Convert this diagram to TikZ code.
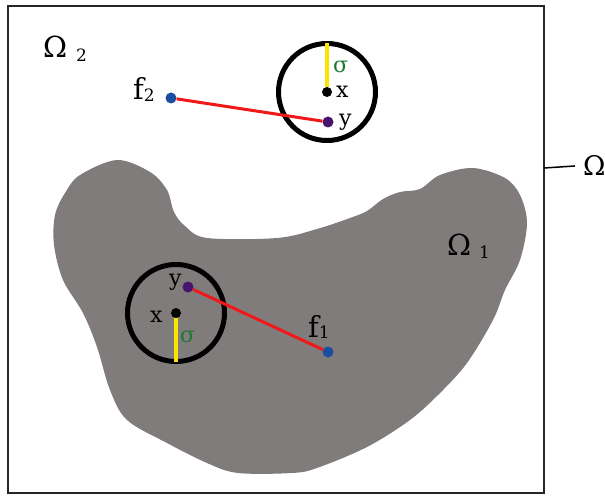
\documentclass[tikz,border=0pt]{standalone}
\usepackage{fontspec}
\setmainfont{DejaVu Serif}
\definecolor{blobgrey}{RGB}{128,124,123}
\definecolor{dotblue}{RGB}{28,78,160}
\definecolor{dotpurple}{RGB}{72,20,110}
\definecolor{linered}{RGB}{240,24,24}
\definecolor{lineyellow}{RGB}{250,228,0}
\definecolor{sigmagreen}{RGB}{30,120,50}
\newcommand{\subdigit}[2]{\raisebox{-#2}{\fontsize{17}{20}\selectfont #1}}
\begin{document}
\begin{tikzpicture}[x=1pt,y=-1pt,
  dot/.style={circle,fill=#1,inner sep=0pt,minimum size=11pt},
  ring/.style={circle,draw=black,line width=5pt,inner sep=0pt,outer sep=0pt,minimum size=97pt},
  radiusline/.style={draw=lineyellow,line width=3.5pt},
  distline/.style={draw=linered,line width=3pt},
  biglabel/.style={anchor=base west,inner sep=0pt,font=\fontsize{29}{34}\selectfont},
  smalllabel/.style={anchor=base west,inner sep=0pt,font=\fontsize{22}{26}\selectfont},
]
\useasboundingbox (0,0) rectangle (605,497);
% frame
\draw[line width=2pt,draw=black!85] (8,6) rectangle (544,493);
% region Omega_1
\fill[blobgrey] plot[smooth cycle,tension=0.55] coordinates {
 (117,160) (150,172) (167,190) (174,212) (185,226) (207,238) (277,238)
 (317,229) (350,218) (367,211) (383,199) (400,192) (420,189) (440,175)
 (473,168) (505,178) (520,195) (527,223) (520,260) (505,290) (493,320)
 (467,363) (440,393) (410,420) (367,447) (317,468) (292,473) (238,473)
 (207,463) (167,443) (127,420) (110,390) (97,347) (83,313) (63,280)
 (54,245) (55,215) (65,193) (80,175)};
% Omega tick
\coordinate (tk) at (544,168);
\node[font=\fontsize{27}{32}\selectfont,inner sep=0pt,anchor=base west] (om) at (583,176) {Ω};
\draw[line width=1.5pt] (tk) -- ([xshift=-8pt]om.west);
% labels of regions
\node[biglabel] (om2) at (43,58) {Ω\hspace{9pt}\subdigit{2}{4pt}};
\node[biglabel] (om1) at (447,255) {Ω\hspace{8pt}\subdigit{1}{3pt}};
% upper circle
\node[ring] (c2) at (327,92) {};
\node[dot=black,minimum size=10pt] (x2) at (327,92) {};
\draw[radiusline] (x2) -- (c2.north);
\node[dot=dotpurple] (y2) at (328,122) {};
\node[dot=dotblue] (f2) at (171,98) {};
\draw[distline] (f2) -- (y2);
\node[smalllabel] (x2l) at (336,98) {x};
\node[smalllabel] (y2l) at (339,126) {y};
\node[smalllabel,text=sigmagreen] (s2l) at (333,73) {σ};
\node[biglabel] (f2l) at (133,100) {f\subdigit{2}{1.5pt}};
% lower circle
\node[ring] (c1) at (176,313) {};
\node[dot=black,minimum size=10pt] (x1) at (176,313) {};
\draw[radiusline] (x1) -- (c1.south);
\node[dot=dotpurple] (y1) at (188,287) {};
\node[dot=dotblue] (f1) at (328,352) {};
\draw[distline] (y1) -- (f1);
\node[smalllabel] (x1l) at (150,322) {x};
\node[smalllabel] (y1l) at (169,285) {y};
\node[smalllabel,text=sigmagreen] (s1l) at (180,342) {σ};
\node[biglabel] (f1l) at (308,337) {f\subdigit{1}{1.5pt}};
\end{tikzpicture}
\end{document}
